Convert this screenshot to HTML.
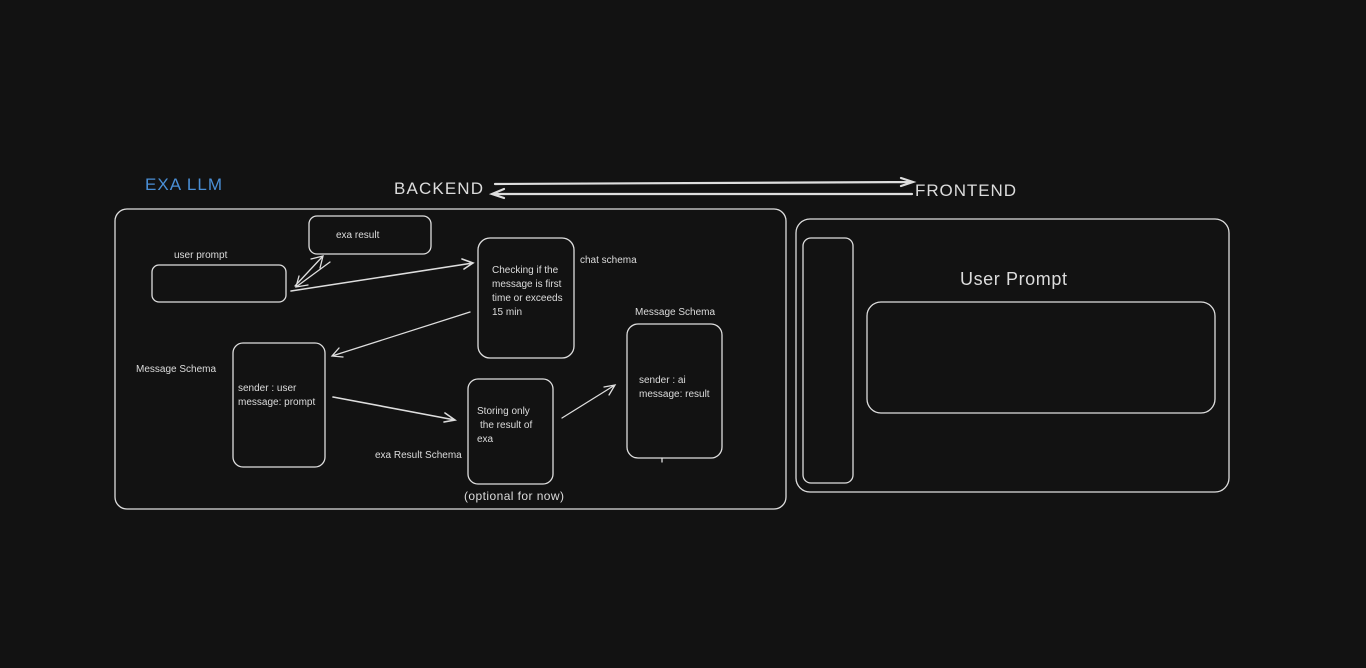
<!DOCTYPE html>
<html><head><style>
html,body{margin:0;padding:0;background:#121212;}
svg{display:block;}
text{font-family:"Liberation Sans",sans-serif;fill:#dcdcdc;}
</style></head><body>
<svg width="1366" height="668" viewBox="0 0 1366 668" xmlns="http://www.w3.org/2000/svg">
<rect width="1366" height="668" fill="#121212"/>
<g fill="none" stroke="#dedede" stroke-width="1.3" stroke-linecap="round">
<rect x="115" y="209" width="671" height="300" rx="12"/>
<rect x="309" y="216" width="122" height="38" rx="8"/>
<rect x="152" y="265" width="134" height="37" rx="7"/>
<rect x="478" y="238" width="96" height="120" rx="12"/>
<rect x="233" y="343" width="92" height="124" rx="10"/>
<rect x="468" y="379" width="85" height="105" rx="10"/>
<rect x="627" y="324" width="95" height="134" rx="11"/>
<line x1="662" y1="458" x2="662" y2="462"/>
<rect x="796" y="219" width="433" height="273" rx="14"/>
<rect x="803" y="238" width="50" height="245" rx="8"/>
<rect x="867" y="302" width="348" height="111" rx="14"/>
<path d="M295 286 L323 256 M311 259 L323 256 L320 268"/>
<path d="M330 262 L296 287 M299 276 L296 287 L308 285"/>
<path d="M291 291 L473 263 M462 259 L473 263 L464 269" stroke-width="1.6"/>
<path d="M470 312 L332 356 M339 348 L332 356 L343 357"/>
<path d="M333 397 L455 420 M445 413 L455 420 L444 422" stroke-width="1.6"/>
<path d="M562 418 L615 385 M604 387 L615 385 L609 395"/>
<path d="M495 184 L913 182 M901 178 L913 182 L901 186" stroke-width="2.2"/>
<path d="M912 194 L492 194 M504 189 L492 194 L504 198" stroke-width="2.2"/>
</g>
<text x="145" y="190" font-size="17" textLength="77" style="fill:#4a8fd6">EXA LLM</text>
<text x="394" y="194" font-size="17" textLength="89">BACKEND</text>
<text x="915" y="196" font-size="17" textLength="101">FRONTEND</text>
<text x="960" y="285" font-size="18" textLength="107">User Prompt</text>
<g font-size="10">
<text x="336" y="238">exa result</text>
<text x="174" y="258">user prompt</text>
<text x="492" y="273">Checking if the</text>
<text x="492" y="287">message is first</text>
<text x="492" y="301">time or exceeds</text>
<text x="492" y="315">15 min</text>
<text x="580" y="263">chat schema</text>
<text x="136" y="372">Message Schema</text>
<text x="238" y="391">sender : user</text>
<text x="238" y="405">message: prompt</text>
<text x="477" y="414">Storing only</text>
<text x="480" y="428">the result of</text>
<text x="477" y="442">exa</text>
<text x="375" y="458">exa Result Schema</text>
<text x="635" y="315">Message Schema</text>
<text x="639" y="383">sender : ai</text>
<text x="639" y="397">message: result</text>
</g>
<text x="464" y="500" font-size="12" textLength="100">(optional for now)</text>
</svg>
</body></html>
